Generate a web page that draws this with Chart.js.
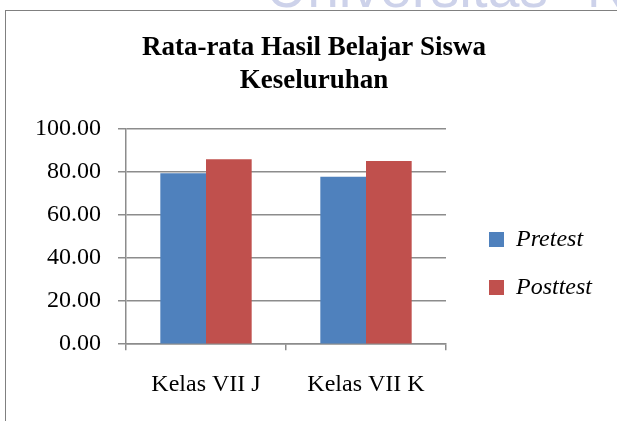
<!DOCTYPE html>
<html>
<head>
<meta charset="utf-8">
<script src="https://cdn.jsdelivr.net/npm/chart.js@4"></script>
<style>
  body { margin: 0; background: #fff; }
  #wrap { position: relative; width: 617px; height: 421px; overflow: hidden; }
  #watermark { position: absolute; left: 266px; top: -41px; font: 57px 'Liberation Sans', sans-serif; color: #cdd2ea; white-space: nowrap; line-height: 1; word-spacing: 23px; }
  #frame { position: absolute; left: 5px; top: 10px; width: 700px; height: 500px; border-left: 1px solid #808080; border-top: 1px solid #808080; }
  #grafik { position: absolute; left: 0; top: 0; }
</style>
</head>
<body>
<div id="wrap">
  <div id="watermark">Universitas N</div>
  <div id="frame"></div>
  <canvas id="grafik" width="617" height="421"></canvas>
</div>
<script>
// data grafik
var kelas = ['Kelas VII J', 'Kelas VII K'];
var pretest = [79.4, 77.8];
var posttest = [86.0, 85.1];
var yMax = 100;
var yStep = 20;

var warnaGrid = '#8c8c8c';
var hurufSerif = "'Liberation Serif', serif";

// geser legenda ke kanan-bawah dan judul sedikit ke kanan (seperti di Excel)
var geserKotak = {
    id: 'geserKotak',
    afterLayout: function (chart) {
        var lg = chart.legend;
        lg.left += 19; lg.right += 19;
        lg.top += 49; lg.bottom += 49;
        var jd = chart.titleBlock;
        if (jd) { jd.left += 8; jd.right += 8; }
    }
};

var ctx = document.getElementById('grafik').getContext('2d');
var myChart = new Chart(ctx, {
    type: 'bar',
    data: {
        labels: kelas,
        datasets: [{
            label: 'Pretest',
            data: pretest,
            backgroundColor: '#4F81BD'
        }, {
            label: 'Posttest',
            data: posttest,
            backgroundColor: '#C0504D'
        }]
    },
    options: {
        responsive: false,
        animation: false,
        barPercentage: 1,
        categoryPercentage: 0.571,
        layout: {
            padding: { top: 10, left: 35, right: 40, bottom: 2 }
        },
        plugins: {
            title: {
                display: true,
                text: ['Rata-rata Hasil Belajar Siswa', 'Keseluruhan'],
                color: '#000',
                font: { family: hurufSerif, size: 27, weight: 'bold', lineHeight: 33 / 27 },
                padding: { top: 22, bottom: 31 }
            },
            legend: {
                position: 'right',
                maxWidth: 131,
                labels: {
                    color: '#000',
                    boxWidth: 15,
                    boxHeight: 15,
                    padding: 24,
                    font: { family: hurufSerif, size: 24, style: 'italic' }
                }
            },
            tooltip: { enabled: false }
        },
        scales: {
            x: {
                grid: {
                    offset: true,
                    drawOnChartArea: false,
                    tickLength: 6,
                    color: warnaGrid,
                    lineWidth: 1.5
                },
                border: { color: warnaGrid, width: 1.5 },
                ticks: {
                    color: '#000',
                    padding: 20,
                    font: { family: hurufSerif, size: 24 }
                }
            },
            y: {
                min: 0,
                max: yMax,
                afterFit: function (s) { s.width = 91; },
                grid: { tickLength: 8, color: warnaGrid, lineWidth: 1.5 },
                border: { color: warnaGrid, width: 1.5 },
                ticks: {
                    stepSize: yStep,
                    color: '#000',
                    padding: 17,
                    font: { family: hurufSerif, size: 24 },
                    callback: function (v) { return v.toFixed(2); }
                }
            }
        }
    },
    plugins: [geserKotak]
});
</script>
</body>
</html>
